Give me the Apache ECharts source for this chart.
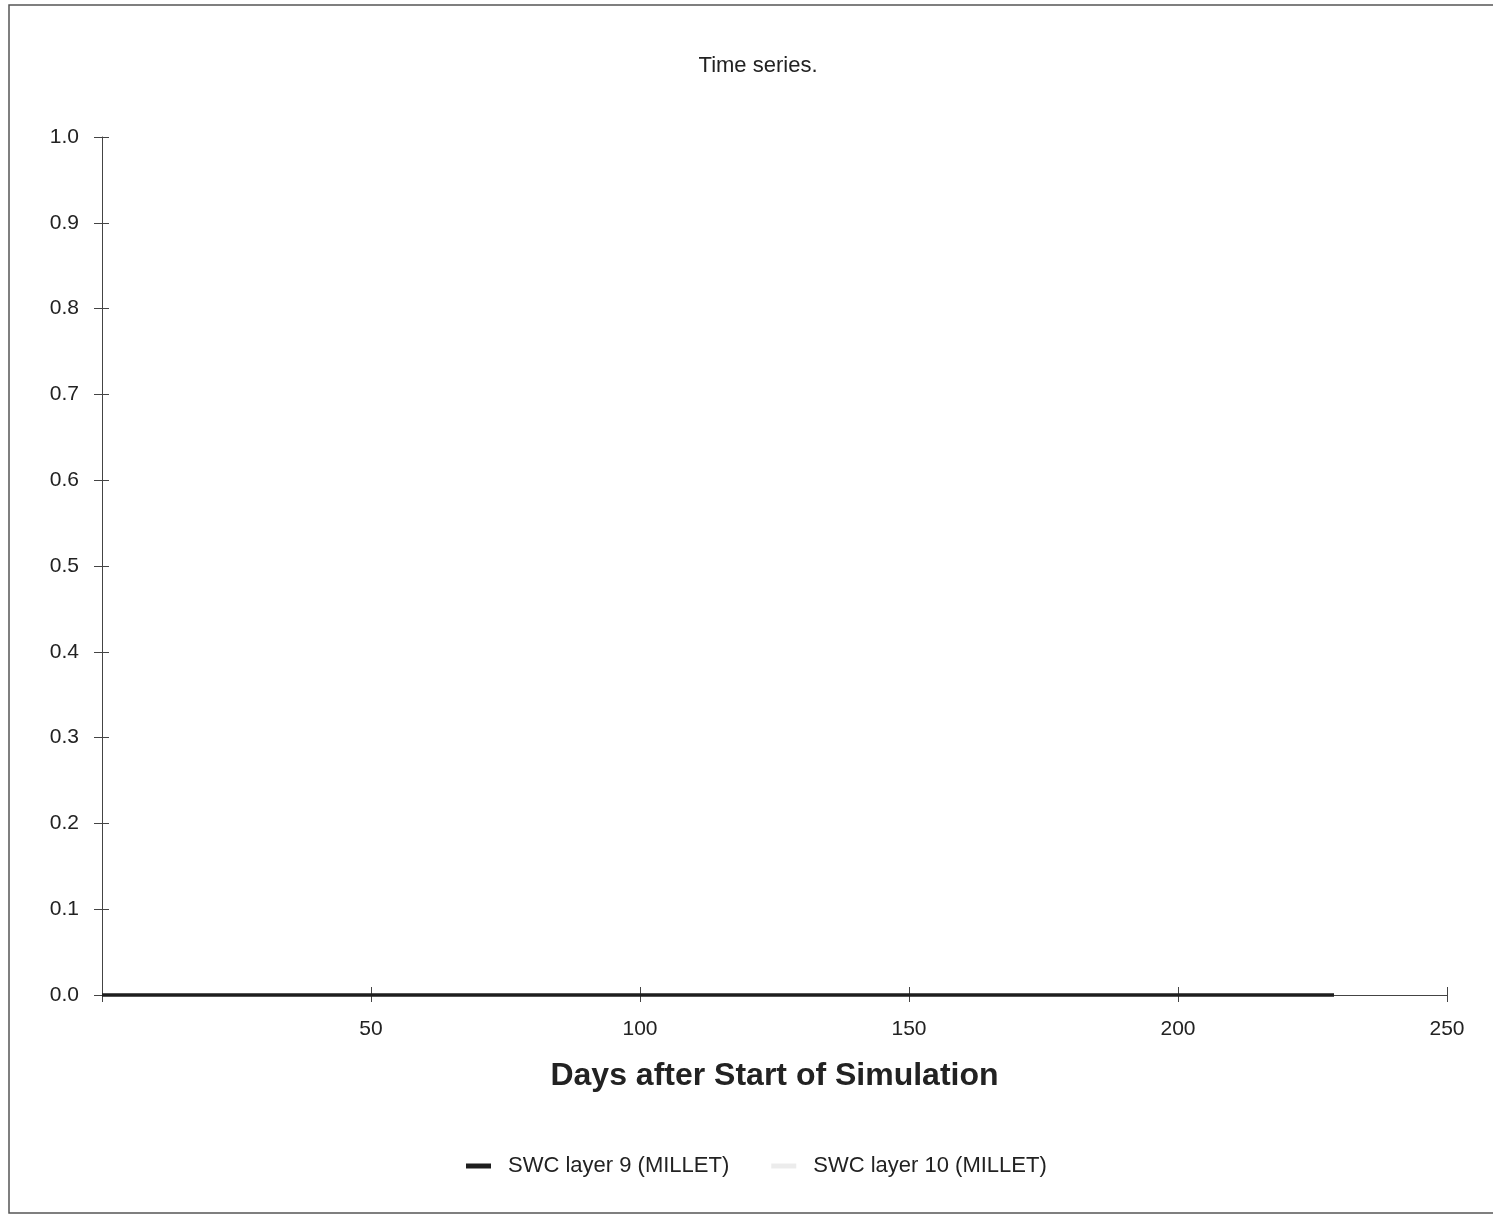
<!DOCTYPE html>
<html>
<head>
<meta charset="utf-8">
<title>Time series.</title>
<script src="https://cdn.jsdelivr.net/npm/echarts@6/dist/echarts.min.js"></script>
<style>
  html, body { margin: 0; padding: 0; background: #fff; }
  #chart { width: 1493px; height: 1216px; }
</style>
</head>
<body>
<div id="chart"></div>
<script>
// Simulation output: soil water content per layer, by day
const days = [0, 10, 20, 30, 40, 50, 60, 70, 80, 90, 100, 110, 120, 130, 140, 150, 160, 170, 180, 190, 200, 210, 220, 229];
const swcLayer9 = [0, 0, 0, 0, 0, 0, 0, 0, 0, 0, 0, 0, 0, 0, 0, 0, 0, 0, 0, 0, 0, 0, 0, 0];
const swcLayer10 = [0, 0, 0, 0, 0, 0, 0, 0, 0, 0, 0, 0, 0, 0, 0, 0, 0, 0, 0, 0, 0, 0, 0, 0];
const seriesNames = ['SWC layer 9 (MILLET)', 'SWC layer 10 (MILLET)'];

const FONT = '"Liberation Sans", Arial, sans-serif';
const TEXT = '#222';
const AXIS = '#444';

const pairs = (xs, ys) => xs.map((x, i) => [x, ys[i]]);

const chart = echarts.init(document.getElementById('chart'), null, { renderer: 'canvas' });

const xBase = { type: 'value', min: 0, max: 250, interval: 50, gridIndex: 0 };
const yBase = { type: 'value', min: 0, max: 1, interval: 0.1, gridIndex: 0 };

chart.setOption({
  backgroundColor: '#fff',
  animation: false,
  title: {
    text: 'Time series.',
    left: 753,
    textAlign: 'center',
    top: 50,
    textStyle: { fontFamily: FONT, fontSize: 22, fontWeight: 'normal', color: TEXT }
  },
  graphic: [{
    type: 'rect',
    shape: { x: 9, y: 5, width: 1500, height: 1208 },
    style: { fill: 'none', stroke: '#555', lineWidth: 1.5 },
    silent: true,
    z: -1
  }],
  grid: { left: 102, right: 46, top: 137, bottom: 221, containLabel: false },
  legend: {
    data: seriesNames,
    left: 461,
    top: 1150,
    icon: 'rect',
    itemWidth: 25,
    itemHeight: 5,
    itemGap: 42,
    textStyle: { fontFamily: FONT, fontSize: 22, color: TEXT, padding: [0, 0, 0, 12] }
  },
  xAxis: [
    Object.assign({}, xBase, {
      position: 'bottom',
      name: 'Days after Start of Simulation',
      nameLocation: 'middle',
      nameGap: 65,
      nameTextStyle: { fontFamily: FONT, fontSize: 32, fontWeight: 'bold', color: TEXT },
      axisLine: { show: true, onZero: false, lineStyle: { color: AXIS, width: 1 } },
      axisTick: { show: true, inside: false, length: 7, lineStyle: { color: AXIS } },
      axisLabel: {
        fontFamily: FONT, fontSize: 21, color: TEXT, margin: 24,
        formatter: v => (v === 0 ? '' : String(v))
      },
      splitLine: { show: false }
    }),
    // inner half of the crossing ticks
    Object.assign({}, xBase, {
      position: 'bottom',
      axisLine: { show: false, onZero: false },
      axisTick: { show: true, inside: true, length: 8, lineStyle: { color: AXIS } },
      axisLabel: { show: false },
      splitLine: { show: false }
    })
  ],
  yAxis: [
    Object.assign({}, yBase, {
      position: 'left',
      axisLine: { show: true, onZero: false, lineStyle: { color: AXIS, width: 1 } },
      axisTick: { show: true, inside: false, length: 8, lineStyle: { color: AXIS } },
      axisLabel: {
        fontFamily: FONT, fontSize: 21, color: TEXT, margin: 23,
        formatter: v => v.toFixed(1)
      },
      splitLine: { show: false }
    }),
    Object.assign({}, yBase, {
      position: 'left',
      axisLine: { show: false, onZero: false },
      axisTick: { show: true, inside: true, length: 7, lineStyle: { color: AXIS } },
      axisLabel: { show: false },
      splitLine: { show: false }
    })
  ],
  series: [
    {
      name: seriesNames[1],
      type: 'line',
      xAxisIndex: 0,
      yAxisIndex: 0,
      data: pairs(days, swcLayer10),
      showSymbol: false,
      clip: false,
      color: '#ececec',
      lineStyle: { color: '#ececec', width: 2 },
      z: 3
    },
    {
      name: seriesNames[0],
      type: 'line',
      xAxisIndex: 0,
      yAxisIndex: 0,
      data: pairs(days, swcLayer9),
      showSymbol: false,
      clip: false,
      color: '#1e1e1e',
      lineStyle: { color: '#1e1e1e', width: 3.5 },
      z: 4
    }
  ]
});
</script>
</body>
</html>
